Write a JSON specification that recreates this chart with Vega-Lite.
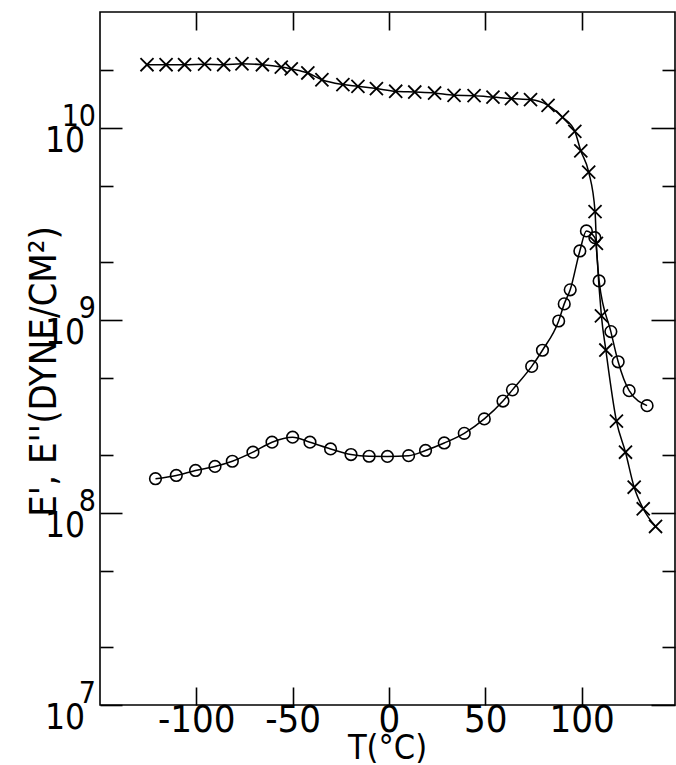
{
  "$schema": "https://vega.github.io/schema/vega-lite/v6.json",
  "autosize": "none",
  "width": 575,
  "height": 693,
  "padding": {"left": 100, "top": 12, "right": 1, "bottom": 60},
  "background": "white",
  "config": {
    "view": {"stroke": "black", "strokeWidth": 1.6},
    "axis": {
      "domain": false,
      "grid": false,
      "tickColor": "black",
      "tickWidth": 1.6,
      "labelColor": "black",
      "titleColor": "black",
      "labelFont": "Liberation Sans Narrow, DejaVu Sans Condensed, sans-serif",
      "titleFont": "Liberation Sans Narrow, DejaVu Sans Condensed, sans-serif",
      "labelFontWeight": "normal",
      "titleFontWeight": "normal"
    },
    "text": {"font": "Liberation Sans Narrow, DejaVu Sans Condensed, sans-serif", "color": "black"}
  },
  "datasets": {
    "moduli": [
      {"T": -125.6, "E": 2.128e10, "series": "E'"},
      {"T": -115.7, "E": 2.128e10, "series": "E'"},
      {"T": -106.1, "E": 2.128e10, "series": "E'"},
      {"T": -95.7, "E": 2.143e10, "series": "E'"},
      {"T": -85.8, "E": 2.128e10, "series": "E'"},
      {"T": -76.3, "E": 2.153e10, "series": "E'"},
      {"T": -65.7, "E": 2.128e10, "series": "E'"},
      {"T": -55.9, "E": 2.07e10, "series": "E'"},
      {"T": -50.7, "E": 2.023e10, "series": "E'"},
      {"T": -42.1, "E": 1.928e10, "series": "E'"},
      {"T": -34.8, "E": 1.778e10, "series": "E'"},
      {"T": -23.9, "E": 1.679e10, "series": "E'"},
      {"T": -16.1, "E": 1.644e10, "series": "E'"},
      {"T": -6.5, "E": 1.6e10, "series": "E'"},
      {"T": 3.5, "E": 1.549e10, "series": "E'"},
      {"T": 13.4, "E": 1.535e10, "series": "E'"},
      {"T": 23.7, "E": 1.517e10, "series": "E'"},
      {"T": 33.8, "E": 1.476e10, "series": "E'"},
      {"T": 44.2, "E": 1.469e10, "series": "E'"},
      {"T": 54.0, "E": 1.445e10, "series": "E'"},
      {"T": 63.6, "E": 1.419e10, "series": "E'"},
      {"T": 73.5, "E": 1.403e10, "series": "E'"},
      {"T": 82.6, "E": 1.309e10, "series": "E'"},
      {"T": 90.1, "E": 1.135e10, "series": "E'"},
      {"T": 96.5, "E": 9.59e9, "series": "E'"},
      {"T": 99.6, "E": 7.59e9, "series": "E'"},
      {"T": 103.7, "E": 5.89e9, "series": "E'"},
      {"T": 107.0, "E": 3.67e9, "series": "E'"},
      {"T": 107.7, "E": 2.51e9, "series": "E'"},
      {"T": 110.3, "E": 1.054e9, "series": "E'"},
      {"T": 112.6, "E": 7.0e8, "series": "E'"},
      {"T": 118.1, "E": 2.99e8, "series": "E'"},
      {"T": 122.8, "E": 2.06e8, "series": "E'"},
      {"T": 127.3, "E": 1.355e8, "series": "E'"},
      {"T": 132.0, "E": 1.047e8, "series": "E'"},
      {"T": 138.4, "E": 8.47e7, "series": "E'"},
      {"T": -121.2, "E": 1.5e8, "series": "E''"},
      {"T": -110.4, "E": 1.56e8, "series": "E''"},
      {"T": -100.4, "E": 1.656e8, "series": "E''"},
      {"T": -90.3, "E": 1.738e8, "series": "E''"},
      {"T": -81.3, "E": 1.849e8, "series": "E''"},
      {"T": -70.6, "E": 2.061e8, "series": "E''"},
      {"T": -60.7, "E": 2.323e8, "series": "E''"},
      {"T": -50.0, "E": 2.466e8, "series": "E''"},
      {"T": -41.0, "E": 2.323e8, "series": "E''"},
      {"T": -30.3, "E": 2.143e8, "series": "E''"},
      {"T": -19.7, "E": 2.004e8, "series": "E''"},
      {"T": -10.3, "E": 1.963e8, "series": "E''"},
      {"T": -0.8, "E": 1.959e8, "series": "E''"},
      {"T": 10.2, "E": 1.977e8, "series": "E''"},
      {"T": 19.0, "E": 2.104e8, "series": "E''"},
      {"T": 28.7, "E": 2.301e8, "series": "E''"},
      {"T": 39.1, "E": 2.582e8, "series": "E''"},
      {"T": 49.5, "E": 3.069e8, "series": "E''"},
      {"T": 59.2, "E": 3.802e8, "series": "E''"},
      {"T": 64.1, "E": 4.345e8, "series": "E''"},
      {"T": 74.1, "E": 5.754e8, "series": "E''"},
      {"T": 79.7, "E": 6.982e8, "series": "E''"},
      {"T": 88.1, "E": 9.908e8, "series": "E''"},
      {"T": 91.0, "E": 1.216e9, "series": "E''"},
      {"T": 94.1, "E": 1.439e9, "series": "E''"},
      {"T": 99.1, "E": 2.291e9, "series": "E''"},
      {"T": 102.5, "E": 2.911e9, "series": "E''"},
      {"T": 106.9, "E": 2.685e9, "series": "E''"},
      {"T": 109.1, "E": 1.6e9, "series": "E''"},
      {"T": 115.2, "E": 8.73e8, "series": "E''"},
      {"T": 119.0, "E": 6.081e8, "series": "E''"},
      {"T": 124.7, "E": 4.305e8, "series": "E''"},
      {"T": 134.0, "E": 3.597e8, "series": "E''"}
    ],
    "decades": [
      {"v": 1e7, "base": "10", "exp": "7"},
      {"v": 1e8, "base": "10", "exp": "8"},
      {"v": 1e9, "base": "10", "exp": "9"},
      {"v": 1e10, "base": "10", "exp": "10"}
    ]
  },
  "resolve": {"axis": {"x": "independent", "y": "independent"}},
  "layer": [
    {
      "data": {"name": "moduli"},
      "mark": {"type": "line", "interpolate": "monotone", "color": "black", "strokeWidth": 1.5},
      "encoding": {
        "x": {
          "field": "T", "type": "quantitative",
          "scale": {"domain": [-150, 148.5], "nice": false, "zero": false},
          "axis": {
            "orient": "bottom",
            "values": [-100, -50, 0, 50, 100],
            "tickSize": -18,
            "labelFontSize": 38,
            "labelPadding": 14,
            "labelFlush": false,
            "labelOverlap": false,
            "labelExpr": "datum.value < 0 ? '-' + abs(datum.value) : '' + datum.value",
            "title": "T(°C)",
            "titleFontSize": 34,
            "titleX": 287,
            "titleY": 53,
            "titleAlign": "center",
            "titleBaseline": "alphabetic"
          }
        },
        "y": {
          "field": "E", "type": "quantitative",
          "scale": {"type": "log", "domain": [1e7, 4e10], "nice": false},
          "axis": {
            "orient": "left",
            "values": [1e7, 2e7, 5e7, 1e8, 2e8, 5e8, 1e9, 2e9, 5e9, 1e10, 2e10],
            "tickSize": {"condition": {"test": "datum.value == 1e7 || datum.value == 1e8 || datum.value == 1e9 || datum.value == 1e10", "value": -22}, "value": -13},
            "labels": false,
            "title": "E', E''(DYNE/CM²)",
            "titleFontSize": 38,
            "titleAngle": -90,
            "titleX": -45,
            "titleY": 359,
            "titleAlign": "center",
            "titleBaseline": "alphabetic"
          }
        },
        "detail": {"field": "series", "type": "nominal"}
      }
    },
    {
      "data": {"name": "moduli"},
      "transform": [{"filter": "datum.series == \"E'\""}],
      "mark": {"type": "point", "shape": "M-1,-1L1,1M-1,1L1,-1", "filled": false, "stroke": "black", "strokeWidth": 1.8, "size": 170, "opacity": 1},
      "encoding": {
        "x": {
          "field": "T", "type": "quantitative",
          "scale": {"domain": [-150, 148.5], "nice": false, "zero": false},
          "axis": {"orient": "top", "values": [-100, -50, 0, 50, 100], "tickSize": -18, "labels": false, "title": null}
        },
        "y": {
          "field": "E", "type": "quantitative",
          "scale": {"type": "log", "domain": [1e7, 4e10], "nice": false},
          "axis": {
            "orient": "right",
            "values": [1e7, 2e7, 5e7, 1e8, 2e8, 5e8, 1e9, 2e9, 5e9, 1e10, 2e10],
            "tickSize": {"condition": {"test": "datum.value == 1e7 || datum.value == 1e8 || datum.value == 1e9 || datum.value == 1e10", "value": -24}, "value": -13},
            "labels": false,
            "title": null
          }
        }
      }
    },
    {
      "data": {"name": "moduli"},
      "transform": [{"filter": "datum.series == \"E''\""}],
      "mark": {"type": "point", "shape": "circle", "filled": false, "stroke": "black", "strokeWidth": 1.6, "size": 135, "opacity": 1},
      "encoding": {
        "x": {"field": "T", "type": "quantitative", "scale": {"domain": [-150, 148.5], "nice": false, "zero": false}, "axis": null},
        "y": {"field": "E", "type": "quantitative", "scale": {"type": "log", "domain": [1e7, 4e10], "nice": false}, "axis": null}
      }
    },
    {
      "data": {"name": "decades"},
      "mark": {"type": "text", "align": "right", "baseline": "middle", "dx": -15, "dy": 13, "fontSize": 35},
      "encoding": {
        "x": {"datum": -150, "type": "quantitative", "scale": {"domain": [-150, 148.5], "nice": false, "zero": false}, "axis": null},
        "y": {"field": "v", "type": "quantitative", "scale": {"type": "log", "domain": [1e7, 4e10], "nice": false}, "axis": null},
        "text": {"field": "base", "type": "nominal"}
      }
    },
    {
      "data": {"name": "decades"},
      "mark": {"type": "text", "align": "right", "baseline": "middle", "dx": -4, "dy": -11, "fontSize": 30},
      "encoding": {
        "x": {"datum": -150, "type": "quantitative", "scale": {"domain": [-150, 148.5], "nice": false, "zero": false}, "axis": null},
        "y": {"field": "v", "type": "quantitative", "scale": {"type": "log", "domain": [1e7, 4e10], "nice": false}, "axis": null},
        "text": {"field": "exp", "type": "nominal"}
      }
    }
  ]
}
